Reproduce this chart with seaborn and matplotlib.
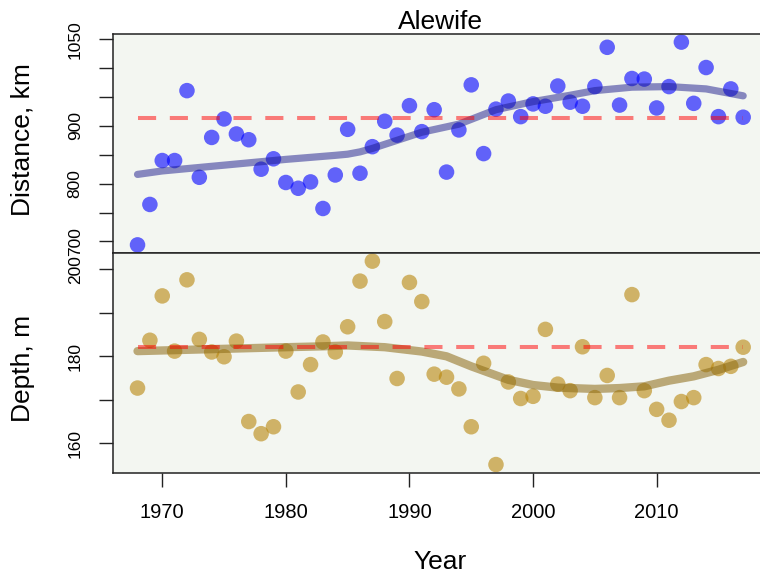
import matplotlib
matplotlib.use("Agg")
import matplotlib.pyplot as plt
import seaborn as sns
import numpy as np

# ---------------- data ----------------
years = list(range(1968, 2018))
distance_km = [694, 764, 840, 840, 961, 811, 880, 912, 886, 876,
               825, 843, 802, 792, 803, 757, 815, 894, 818, 864,
               908, 884, 935, 890, 928, 820, 893, 971, 852, 929,
               943, 916, 938, 934, 969, 941, 934, 968, 1036, 936,
               982, 981, 931, 968, 1045, 939, 1001, 916, 964, 915]
depth_m = [172.7, 183.7, 193.9, 181.2, 197.6, 183.9, 181.0, 179.9, 183.5, 165.0,
           162.2, 163.8, 181.2, 171.8, 178.1, 183.3, 181.0, 186.8, 197.3, 201.9,
           188.0, 174.9, 197.0, 192.6, 175.9, 175.2, 172.5, 163.8, 178.4, 155.1,
           174.1, 170.3, 170.8, 186.2, 173.6, 172.1, 182.2, 170.5, 175.6, 170.5,
           194.2, 172.1, 167.8, 165.3, 169.6, 170.5, 178.1, 177.2, 177.7, 182.1]

trend_years_dist = [1968, 1970, 1975, 1980, 1984, 1985, 1986, 1987, 1989, 1991, 1994,
                    1997, 2000, 2003, 2005, 2008, 2011, 2014, 2017]
trend_dist = [816, 822, 832, 842, 849, 851, 855, 861, 875, 889, 903,
              928, 942, 953, 961, 967, 968, 964, 952]

trend_years_depth = [1968, 1972, 1976, 1980, 1983, 1985, 1988, 1991, 1993, 1995,
                     1998, 2000, 2002, 2005, 2007, 2009, 2011, 2013, 2015, 2017]
trend_depth = [181.2, 181.5, 181.8, 182.1, 182.3, 182.5, 182.1, 181.1, 180.0, 177.7,
               174.6, 173.4, 172.8, 172.5, 172.7, 173.1, 174.4, 175.4, 176.9, 178.7]

dist_ref = 914
depth_ref = 182.1

dist_ticks = [700, 750, 800, 850, 900, 950, 1000, 1050]
dist_tick_labels = ["700", "", "800", "", "900", "", "", "1050"]
depth_ticks = [160, 170, 180, 190, 200]
depth_tick_labels = ["160", "", "180", "", "200"]
year_ticks = [1970, 1980, 1990, 2000, 2010]

title = "Alewife"
xlabel = "Year"
ylabel_top = "Distance, km"
ylabel_bottom = "Depth, m"

# ---------------- style ----------------
sns.set_style("ticks")
plt.rcParams["font.family"] = ["Liberation Sans", "DejaVu Sans"]
plt.rcParams["text.color"] = "black"
plt.rcParams["axes.labelcolor"] = "black"
plt.rcParams["xtick.color"] = "black"
plt.rcParams["ytick.color"] = "black"
bg = "#f3f6f1"

fig = plt.figure(figsize=(7.6, 5.77), dpi=100)
left, width = 0.14908, 0.86066
ax1 = fig.add_axes([left, 0.56153, width, 0.37955])
ax2 = fig.add_axes([left, 0.18076, width, 0.38077])


def pad_lim(vals, frac=0.04):
    lo, hi = min(vals), max(vals)
    r = hi - lo
    return lo - frac * r, hi + frac * r


xlim = pad_lim(years)

for ax, vals, tyr, tv, ref, pcol, lcol, lalpha, lw in [
    (ax1, distance_km, trend_years_dist, trend_dist, dist_ref, "#0000ff", "#1a1a8c", 0.5, 5.2),
    (ax2, depth_m, trend_years_depth, trend_depth, depth_ref, "#b8860b", "#8b6914", 0.55, 6.0),
]:
    ax.set_facecolor(bg)
    sns.scatterplot(x=years, y=vals, ax=ax, s=125, color=pcol, alpha=0.6,
                    edgecolor="none", linewidth=0, zorder=2)
    sns.lineplot(x=tyr, y=tv, ax=ax, color=lcol, alpha=lalpha, lw=lw,
                 solid_capstyle="round", zorder=3)
    ax.hlines(ref, years[0], years[-1], colors="#ff0000", alpha=0.5,
              linewidth=2.9, linestyles=(0, (4.5, 3.4)), zorder=4)
    ax.set_xlim(*xlim)
    ax.set_ylim(*pad_lim(vals))
    for s in ax.spines.values():
        s.set_color("#222222")
        s.set_linewidth(1.1)
    ax.spines["right"].set_visible(False)
    ax.tick_params(axis="both", direction="out", length=10, width=1.0,
                   color="#222222", labelcolor="black", pad=12)

# top panel
ax1.set_xticks(year_ticks)
ax1.tick_params(axis="x", bottom=False, labelbottom=False)
ax1.set_yticks(dist_ticks)
ax1.set_yticklabels(dist_tick_labels, rotation=90, va="center", ha="right",
                    fontsize=12.5)
ax1.set_xlabel("")
ax1.set_ylabel(ylabel_top, fontsize=19, color="black")
ax1.yaxis.set_label_coords(-0.1385, 0.52)
ax1.yaxis.label.set_va("center")
ax1.set_title(title, fontsize=19, pad=3, color="black")

# bottom panel
ax2.set_yticks(depth_ticks)
ax2.set_yticklabels(depth_tick_labels, rotation=90, va="center", ha="right",
                    fontsize=12.5)
ax2.set_xticks(year_ticks)
ax2.set_xticklabels([str(y) for y in year_ticks], fontsize=14.5)
ax2.set_ylabel(ylabel_bottom, fontsize=19, color="black")
ax2.yaxis.set_label_coords(-0.1385, 0.475)
ax2.yaxis.label.set_va("center")
ax2.set_xlabel(xlabel, fontsize=19, color="black")
ax2.xaxis.set_label_coords(0.5, -0.405)
ax2.xaxis.label.set_va("center")

fig.savefig("out.png", dpi=100, facecolor="white")
